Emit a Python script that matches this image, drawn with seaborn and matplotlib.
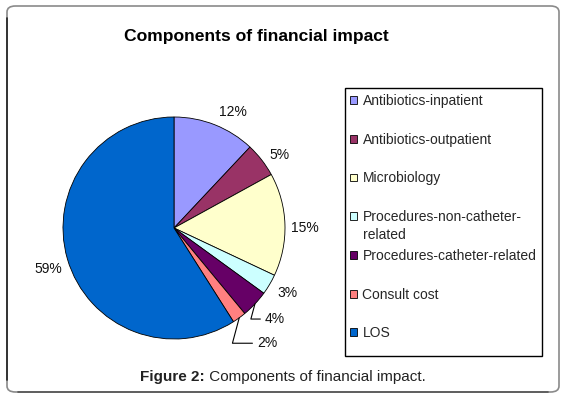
import matplotlib
matplotlib.use("Agg")
import matplotlib.pyplot as plt
import seaborn as sns
import numpy as np
from matplotlib.patches import FancyBboxPatch, Rectangle

# chart data
components = ["Antibiotics-inpatient", "Antibiotics-outpatient", "Microbiology",
              "Procedures-non-catheter-\nrelated", "Procedures-catheter-related",
              "Consult cost", "LOS"]
shares = [12, 5, 15, 3, 4, 2, 59]
slice_colors = ["#9999FF", "#993366", "#FFFFCC", "#CCFFFF", "#660066", "#FF8080", "#0066CC"]

title = "Components of financial impact"
caption_bold = "Figure 2:"
caption_text = " Components of financial impact."

sns.set_theme(style="white")
plt.rcParams['font.family'] = ['Liberation Sans', 'DejaVu Sans']
pal = sns.color_palette(slice_colors)

W, H = 563, 399
fig = plt.figure(figsize=(W / 100, H / 100), dpi=100)
fig.patch.set_facecolor("white")

# outer rounded frame
frame = FancyBboxPatch((7 / W, 1 - 392 / H), (559 - 7) / W, (392 - 6) / H,
                       boxstyle="round,pad=0,rounding_size=0.015",
                       transform=fig.transFigure, fill=False,
                       edgecolor="#8a8a8a", linewidth=1.2)
fig.patches.append(frame)
fig.add_artist(plt.Line2D([7 / W, 7 / W], [1 - 380 / H, 1 - 18 / H],
                          transform=fig.transFigure, color="#222222", lw=1.2))
fig.add_artist(plt.Line2D([18 / W, 548 / W], [1 - 392 / H, 1 - 392 / H],
                          transform=fig.transFigure, color="#555555", lw=1.2))

# pie axes: center (174,228) px, radius 111 px
R = 111
cx, cy = 174, 228
half = 1.25 * R
ax = fig.add_axes([(cx - half) / W, 1 - (cy + half) / H, 2 * half / W, 2 * half / H])
wedges, _ = ax.pie(shares, colors=pal, startangle=90, counterclock=False,
                   wedgeprops=dict(edgecolor="black", linewidth=0.6))
ax.set_xlim(-1.25, 1.25)
ax.set_ylim(-1.25, 1.25)
ax.set_aspect("equal")
ax.axis("off")

# percentage labels: distance, angle shift, leader line
label_dist = [1.17, 1.16, 1.18, 1.18, 1.16, 1.28, 1.19]
angle_shift = [-5.4, -3.2, -1.8, 0.9, -1.8, -0.2, 1.8]
leader = [False, False, False, False, True, True, False]
for w, val, d, s, ld in zip(wedges, shares, label_dist, angle_shift, leader):
    amid = (w.theta1 + w.theta2) / 2
    mid = np.deg2rad(amid + s)
    tx, ty = d * np.cos(mid), d * np.sin(mid)
    if ld:
        ex, ey = np.cos(np.deg2rad(amid)), np.sin(np.deg2rad(amid))
        ax.annotate(f"{val}%", xy=(ex, ey), xytext=(tx, ty),
                    fontsize=10, color="#111111", ha="left", va="center",
                    arrowprops=dict(arrowstyle="-", color="black", lw=0.8,
                                    shrinkA=1, shrinkB=0,
                                    connectionstyle="angle,angleA=180,angleB=75,rad=0"))
    else:
        ax.text(tx, ty, f"{val}%", fontsize=10, color="#111111",
                ha="center", va="center")

fig.text(256 / W, 1 - 36 / H, title, fontsize=12.6, fontweight="bold",
         ha="center", va="center", color="black")

# legend box drawn separately, legend itself unframed
fig.patches.append(Rectangle((345 / W, 1 - 356 / H), (542 - 345) / W, (356 - 88) / H,
                             transform=fig.transFigure, fill=False,
                             edgecolor="black", linewidth=1.0))
# Excel lets wrapped lines spill over the row gap, so only first lines go in the legend
first_lines = [c.split("\n")[0] for c in components]
leg = fig.legend(wedges, first_lines, loc="upper left",
                 bbox_to_anchor=(350 / W, 1 - 94 / H), fontsize=10,
                 frameon=False,
                 handlelength=0.5, handleheight=0.5, handletextpad=0.4,
                 labelspacing=1.78, borderpad=0.0, borderaxespad=0)
for h in leg.legend_handles:
    h.set_edgecolor("black")
    h.set_linewidth(0.6)

renderer = fig.canvas.get_renderer()
fig.canvas.draw()
for txt, full in zip(leg.get_texts(), components):
    rest = full.split("\n")[1:]
    if rest:
        tb = txt.get_window_extent(renderer)
        fig.text(tb.x0 / W, (tb.y0 - 4) / H, "\n".join(rest), fontsize=10,
                 ha="left", va="top", color=txt.get_color())

t1 = fig.text(140 / W, 1 - 377 / H, caption_bold, fontsize=11,
              fontweight="bold", ha="left", va="center", color="#222222")
bb = t1.get_window_extent(renderer)
fig.text(bb.x1 / W, 1 - 377 / H, caption_text, fontsize=11,
         ha="left", va="center", color="#222222")

plt.savefig("out.png", dpi=100)
